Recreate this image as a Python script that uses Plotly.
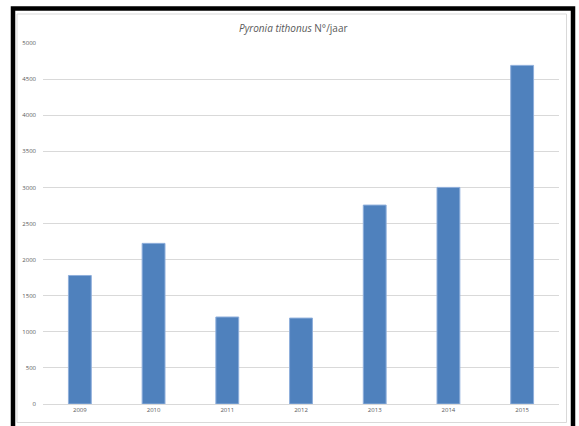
import plotly.graph_objects as go

years = ["2009", "2010", "2011", "2012", "2013", "2014", "2015"]
counts = [1780, 2225, 1205, 1190, 2755, 3000, 4690]
y_ticks = [0, 500, 1000, 1500, 2000, 2500, 3000, 3500, 4000, 4500, 5000]

W, H = 579, 426
L, R, T, B = 43, 20, 43, 22
pw, ph = W - L - R, H - T - B

def px(x):
    return (x - L) / pw

def py(y):
    return (H - B - y) / ph

fig = go.Figure(go.Bar(
    x=years, y=counts,
    marker=dict(color="#4f81bd", line=dict(color="#8eaedb", width=1)),
    width=0.31,
))

fig.update_layout(
    width=W, height=H,
    margin=dict(l=L, r=R, t=T, b=B),
    paper_bgcolor="white", plot_bgcolor="white",
    showlegend=False,
    font=dict(family="Open Sans, Liberation Sans, sans-serif", color="#595959"),
    xaxis=dict(showgrid=False, showline=True, linecolor="#d9d9d9", linewidth=1,
               ticks="", tickfont=dict(size=6, color="#595959")),
    yaxis=dict(range=[0, 5000], tickvals=y_ticks, ticktext=[str(v) for v in y_ticks],
               showgrid=True, gridcolor="#d9d9d9", gridwidth=1, zeroline=False,
               showline=False, ticks="", ticklabelstandoff=6,
               tickfont=dict(size=6, color="#595959")),
    annotations=[dict(
        text="<i>Pyronia tithonus</i> N°/jaar", xref="paper", yref="paper",
        x=px(293), y=py(28), showarrow=False, xanchor="center", yanchor="middle",
        font=dict(size=10, color="#595959"))],
    shapes=[
        dict(type="rect", xref="paper", yref="paper",
             x0=px(17), x1=px(566.5), y0=py(422.5), y1=py(14),
             line=dict(color="#d9d9d9", width=1)),
        dict(type="rect", xref="paper", yref="paper",
             x0=px(13), x1=px(573), y0=py(440), y1=py(8.5),
             line=dict(color="black", width=4.5)),
    ],
)

fig.write_html(
    "out.html",
    config={"displayModeBar": False},
    post_script="document.body.style.margin='0';document.body.style.overflow='hidden';",
)
